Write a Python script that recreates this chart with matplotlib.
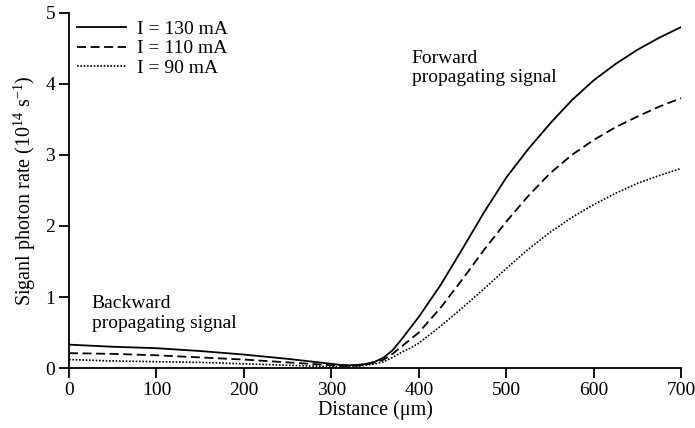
import matplotlib.pyplot as plt
import numpy as np

plt.rcParams['font.family'] = ['Liberation Serif', 'DejaVu Serif']
plt.rcParams['mathtext.fontset'] = 'custom'
plt.rcParams['mathtext.rm'] = 'Liberation Serif'
plt.rcParams['mathtext.it'] = 'Liberation Serif:italic'

# Distance (um) and signal photon rate (1e14 s^-1)
distance = [0, 50, 100, 150, 200, 250, 300, 310, 320, 330, 340, 350, 360,
            370, 380, 390, 400, 425, 450, 475, 500, 525, 550, 575, 600, 625,
            650, 675, 700]
rate_130 = [0.33, 0.30, 0.28, 0.24, 0.19, 0.13, 0.06, 0.045, 0.04, 0.045,
            0.06, 0.09, 0.15, 0.25, 0.40, 0.56, 0.72, 1.17, 1.68, 2.20, 2.68,
            3.08, 3.44, 3.77, 4.05, 4.28, 4.48, 4.65, 4.80]
rate_110 = [0.21, 0.20, 0.18, 0.15, 0.12, 0.08, 0.04, 0.03, 0.03, 0.035,
            0.05, 0.08, 0.12, 0.20, 0.30, 0.40, 0.50, 0.85, 1.25, 1.67, 2.06,
            2.42, 2.74, 3.00, 3.21, 3.39, 3.54, 3.68, 3.80]
rate_90 = [0.12, 0.10, 0.09, 0.08, 0.06, 0.04, 0.02, 0.02, 0.02, 0.025,
           0.04, 0.06, 0.09, 0.15, 0.22, 0.28, 0.35, 0.59, 0.85, 1.12, 1.40,
           1.67, 1.91, 2.12, 2.30, 2.46, 2.60, 2.71, 2.81]
labels = ['I = 130 mA', 'I = 110 mA', 'I = 90 mA']

fig = plt.figure(figsize=(6.95, 4.28), dpi=100)
ax = fig.add_axes([0.0993, 0.140, 0.8807, 0.830])

ax.plot(distance, rate_130, color='black', lw=1.3, ls='-', label=labels[0])
ax.plot(distance, rate_110, color='black', lw=1.3, ls=(0, (5, 2.5)), label=labels[1])
ax.plot(distance, rate_90, color='black', lw=1.2, ls=(0, (1, 1)), label=labels[2])

ax.set_xlim(0, 700)
ax.set_ylim(0, 5)
ax.set_xticks(np.arange(0, 701, 100))
ax.set_yticks(np.arange(0, 6, 1))

for side in ['top', 'right']:
    ax.spines[side].set_visible(False)
for side in ['left', 'bottom']:
    ax.spines[side].set_linewidth(1.3)
ax.tick_params(direction='out', length=7, width=1.3, labelsize=14, pad=3)

ax.set_xlabel('Distance (\u03bcm)', fontsize=14.5, labelpad=1)
ax.set_ylabel('Siganl photon rate (10$^{14}$ s$^{-1}$)', fontsize=14.5, labelpad=5)

ax.text(392, 4.48, 'Forward\npropagating signal', fontsize=14, va='top',
        ha='left', linespacing=1.2)
ax.text(26, 1.03, 'Backward\npropagating signal', fontsize=14, va='top',
        ha='left', linespacing=1.2)

ax.legend(loc='upper left', frameon=False, fontsize=14, handlelength=2.5,
          handletextpad=0.6, labelspacing=0.1, borderaxespad=0.0,
          borderpad=0.2, bbox_to_anchor=(0.007, 0.99))

fig.savefig('out.png', dpi=100)
